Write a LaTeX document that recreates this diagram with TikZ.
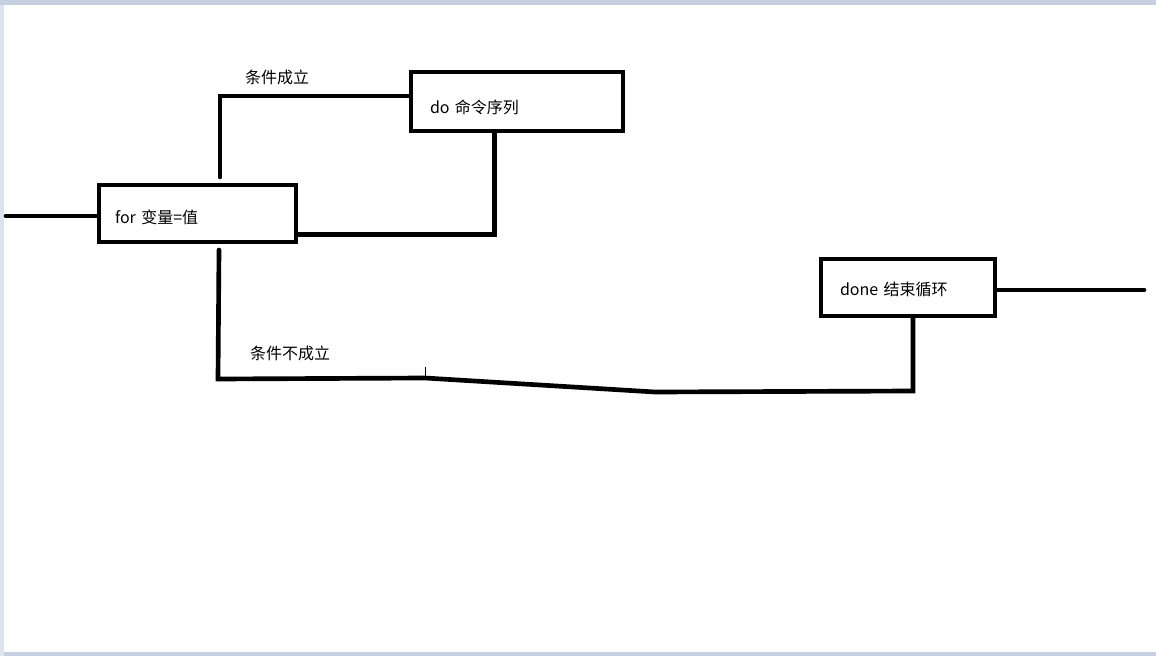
\documentclass[tikz,border=0pt]{standalone}
\usepackage{fontspec}
\setmainfont{Noto Sans CJK SC}
\definecolor{cadre}{RGB}{198,208,224}
\definecolor{cadreg}{RGB}{220,228,240}
\begin{document}
\begin{tikzpicture}[x=0.75pt,y=-0.75pt]
\tikzset{boite/.style={draw, line width=3.5pt, rectangle, align=left, text depth=2pt, font=\fontsize{12}{14}\selectfont},
trait/.style={line width=3.5pt, line cap=round, line join=miter},
etiq/.style={font=\fontsize{12}{14}\selectfont, inner sep=0pt}}
\useasboundingbox (0,0) rectangle (1156,656);
\fill[cadre] (0,0) rectangle (1156,656);
\fill[cadreg] (0,5) rectangle (4,656);
\fill[white] (4,5) rectangle (1156,652);
\node[boite, minimum width=147.75pt, minimum height=42.75pt, text width=123.75pt, inner xsep=12pt, text height=16.3pt] (for) at (197.5,213.5) {for 变量=值};
\node[boite, minimum width=159pt, minimum height=44.25pt, text width=130.5pt, inner xsep=14.25pt, text height=19.5pt] (do) at (517,101.5) {do 命令序列};
\node[boite, minimum width=130.5pt, minimum height=42.75pt, text width=102pt, inner xsep=14.25pt, text height=13.5pt] (done) at (908,287.5) {done 结束循环};
\node[etiq] (oui) at (277,77) {条件成立};
\node[etiq] (non) at (290,353) {条件不成立};
\coordinate (in) at (6,216);
\coordinate (ya) at (220,177);
\coordinate (bk) at (494.5,234.5);
\coordinate (na) at (219,250);
\coordinate (n1) at (218,379);
\coordinate (n2) at (425,378);
\coordinate (n3) at (655,392);
\coordinate (n4) at (913,391);
\coordinate (out) at (1144,290);
\draw[trait] (in) -- (in -| for.west);
\draw[trait] (ya) |- ([yshift=4pt]do.west);
\draw[trait] (do.south -| bk) -- (bk) -- (bk -| for.east);
\draw[trait] (na) -- (n1) -- (n2) -- (n3) -- (n4) -- (n4 |- done.south);
\draw[trait] (done.east |- out) -- (out);
\draw[line width=0.75pt] (n2) -- ++(0,-11);
\end{tikzpicture}
\end{document}
